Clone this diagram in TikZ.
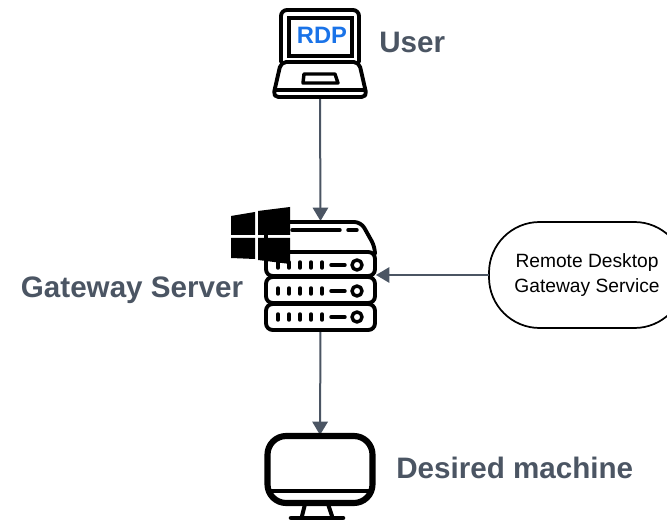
\documentclass[tikz,border=0pt]{standalone}
\usepackage{fontspec}
\setmainfont{Liberation Sans}
\usetikzlibrary{arrows.meta}
\definecolor{slate}{HTML}{4B5563}
\definecolor{rdpblue}{HTML}{1A73E8}
\def\ux{0.75pt}
\tikzset{
  iconbox/.style={inner sep=0pt,outer sep=0pt},
  biglabel/.style={inner sep=0pt,text=slate,font=\fontsize{22.2}{26}\selectfont\bfseries},
  link/.style={draw=slate,line width=1.5pt,-{Triangle[length=10pt,width=11.5pt]}},
  icon/.style={draw=black,line width=2.9pt,line join=round,line cap=round},
  thin icon/.style={draw=black,line width=2.6pt,line join=round,line cap=round},
  pane/.style={fill=black,draw=none},
  cloudbox/.style={draw=black,line width=1.3pt,rounded corners=38pt,fill=white,align=center,
    minimum width=196*\ux,minimum height=106*\ux,inner sep=0pt,outer sep=0pt,
    font=\fontsize{14.4}{18.6}\selectfont}
}
\begin{document}
\begin{tikzpicture}[x=0.75pt,y=-0.75pt]
\useasboundingbox (0,0) rectangle (667,520);
\clip (0,0) rectangle (667,520);
% anchors for the icons
\node[iconbox,minimum width=94*\ux,minimum height=90*\ux] (laptop) at (320,53) {};
\node[iconbox,minimum width=111*\ux,minimum height=109*\ux] (server) at (320.5,275.5) {};
\node[iconbox,minimum width=106*\ux,minimum height=83*\ux] (monitor) at (320,476.5) {};
\node[cloudbox] (service) at (587,275) {Remote Desktop\\Gateway Service};
% labels
\node[biglabel,anchor=west] (userlbl) at (379,42) {User};
\node[biglabel] (gwlbl) at (132,290.5) {Gateway Server};
\node[biglabel,anchor=west] (desired) at (396,468) {Desired machine};
% connectors
\draw[link] (laptop.south) -- (server.north);
\draw[link] (server.south) -- (monitor.north);
\draw[link] (service.west) -- (server.east |- service.west);
% laptop
\draw[icon,rounded corners=4.5pt] (281,62) -- (281,10) -- (359,10) -- (359,62);
\draw[icon,line width=2.6pt,miter limit=10,line join=miter] (289,18) rectangle (352,56);
\draw[icon,rounded corners=4pt] (281,62) -- (359,62) -- (367,97) -- (273,97) -- cycle;
\draw[thin icon] (275,90) -- (365,90);
\draw[thin icon] (304,74) -- (335,74) -- (338,83) -- (303,83) -- cycle;
\node[inner sep=0pt,text=rdpblue,font=\fontsize{17.8}{20}\selectfont\bfseries] (rdp) at (322,35) {RDP};
% server
\draw[icon,rounded corners=5pt] (266,252) -- (266,222) -- (361,222) -- (375,247) -- (375,254);
\draw[thin icon] (292,230) -- (340,230);
\draw[thin icon] (348,230) -- (357,230);
\foreach \yt/\yb/\yc in {252/276/265,277/303/291,304/330/317}{
  \draw[icon,rounded corners=5pt] (266,\yt) rectangle (375,\yb);
  \foreach \xd in {278,289,300,311,322}{
    \draw[thin icon] (\xd,\yc-3) -- (\xd,\yc+3);
  }
  \draw[thin icon] (331,\yc) -- (345,\yc);
  \draw[thin icon] (357,\yc) circle[radius=5];
}
% windows logo
\fill[pane] (231,216) -- (255,212) -- (255,235) -- (231,235) -- cycle;
\fill[pane] (258,211) -- (290,207) -- (290,235) -- (258,235) -- cycle;
\fill[pane] (231,238) -- (255,238) -- (255,259) -- (231,258) -- cycle;
\fill[pane] (258,238) -- (290,238) -- (290,264) -- (258,260) -- cycle;
% monitor
\draw[icon,line width=4.6pt,rounded corners=14pt] (267.5,436) rectangle (372.5,503);
\draw[thin icon,line width=3pt] (269,491) -- (371,491);
\draw[thin icon,line width=3pt] (305,504) -- (302,516);
\draw[thin icon,line width=3pt] (328,504) -- (332,516);
\draw[icon,line width=3.4pt] (291,518) -- (343,518);
\end{tikzpicture}
\end{document}
